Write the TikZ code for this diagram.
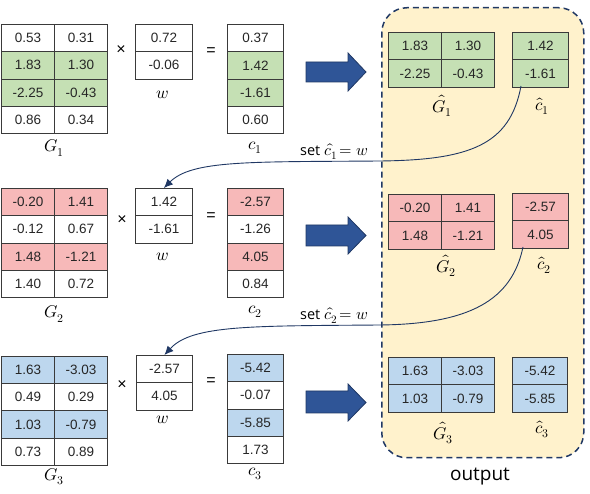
\documentclass[tikz,border=0pt]{standalone}
\usepackage{fontspec}
\usepackage{unicode-math}
\setmainfont{Liberation Sans}
\setmathfont{Latin Modern Math}
\newfontfamily\labfont{Open Sans}
\usetikzlibrary{arrows.meta}
\definecolor{gr}{HTML}{C5E0B4}
\definecolor{pk}{HTML}{F7B9B9}
\definecolor{bl}{HTML}{BDD7EE}
\definecolor{outbg}{HTML}{FFF2CC}
\definecolor{navy}{HTML}{203864}
\definecolor{arrfill}{HTML}{2F5597}
\definecolor{cellline}{HTML}{3A3A3A}
\tikzset{
  cellbox/.style={draw=cellline, line width=0.8pt, minimum height=27.3pt, inner sep=0pt,
    anchor=north west, text=black!85, font=\fontsize{13.5}{15}\selectfont},
  mlabel/.style={inner sep=0pt, font=\fontsize{17}{20}\selectfont},
  opsym/.style={inner sep=0pt, font=\fontsize{16}{18}\selectfont},
  setlab/.style={inner sep=0pt, font=\fontsize{16}{18}\selectfont},
  bigarr/.style={fill=arrfill, draw=navy, line width=0.8pt},
  link/.style={draw=navy, line width=0.9pt, -{Latex[length=9pt,width=8pt]}},
  outframe/.style={draw=navy, fill=outbg, dashed, dash pattern=on 6pt off 4pt, line width=1.5pt,
    rounded corners=25pt, inner sep=0pt},
}
\begin{document}
\begin{tikzpicture}[x=1pt,y=-1pt]
\useasboundingbox (0,0) rectangle (590,494);
% output frame
\node[outframe, minimum width=202pt, minimum height=450pt, anchor=north west] (out) at (381,7) {};
\node[inner sep=0pt, font=\labfont\fontsize{19}{22}\selectfont] (outlab) at (480,477) {output};

% ---------- row 1 ----------
\foreach \a/\b/\f [count=\i from 0] in {0.53/0.31/white, 1.83/1.30/gr, -2.25/-0.43/gr, 0.86/0.34/white} {
  \node[cellbox, fill=\f, minimum width=53pt] (G1-\i-a) at (1, 24+27.3*\i) {\a};
  \node[cellbox, fill=\f, minimum width=53pt] (G1-\i-b) at (54, 24+27.3*\i) {\b};
}
\foreach \a [count=\i from 0] in {0.72, -0.06} {
  \node[cellbox, fill=white, minimum width=57pt] (w1-\i) at (135, 24+27.3*\i) {\a};
}
\foreach \a/\f [count=\i from 0] in {0.37/white, 1.42/gr, -1.61/gr, 0.60/white} {
  \node[cellbox, fill=\f, minimum width=56pt] (c1-\i) at (227, 24+27.3*\i) {\a};
}
\node[opsym] (x1) at (121,50) {×};
\node[opsym] (e1) at (211,52) {=};
\node[mlabel] (G1l) at (54,148) {$G_1$};
\node[mlabel] (w1l) at (163,95) {$w$};
\node[mlabel] (c1l) at (255,148) {$c_1$};
\draw[bigarr] (306,62) -- (348,62) -- (348,53) -- (366,72) -- (348,91) -- (348,82) -- (306,82) -- cycle;
\foreach \a/\b [count=\i from 0] in {1.83/1.30, -2.25/-0.43} {
  \node[cellbox, fill=gr, minimum width=53pt] (H1-\i-a) at (388, 32+27.5*\i) {\a};
  \node[cellbox, fill=gr, minimum width=53pt] (H1-\i-b) at (441, 32+27.5*\i) {\b};
}
\foreach \a [count=\i from 0] in {1.42, -1.61} {
  \node[cellbox, fill=gr, minimum width=56pt] (h1-\i) at (512, 32+27.5*\i) {\a};
}
\node[mlabel] (H1l) at (442,106) {$\hat{G}_1$};
\node[mlabel] (h1l) at (542,106) {$\hat{c}_1$};

% ---------- row 2 ----------
\foreach \a/\b/\f [count=\i from 0] in {-0.20/1.41/pk, -0.12/0.67/white, 1.48/-1.21/pk, 1.40/0.72/white} {
  \node[cellbox, fill=\f, minimum width=53pt] (G2-\i-a) at (1, 188+27.3*\i) {\a};
  \node[cellbox, fill=\f, minimum width=53pt] (G2-\i-b) at (54, 188+27.3*\i) {\b};
}
\foreach \a [count=\i from 0] in {1.42, -1.61} {
  \node[cellbox, fill=white, minimum width=57pt] (w2-\i) at (135, 188+27.3*\i) {\a};
}
\foreach \a/\f [count=\i from 0] in {-2.57/pk, -1.26/white, 4.05/pk, 0.84/white} {
  \node[cellbox, fill=\f, minimum width=56pt] (c2-\i) at (227, 188+27.3*\i) {\a};
}
\node[opsym] (x2) at (122,220) {×};
\node[opsym] (e2) at (211,217) {=};
\node[mlabel] (G2l) at (54,314) {$G_2$};
\node[mlabel] (w2l) at (163,257) {$w$};
\node[mlabel] (c2l) at (255,312) {$c_2$};
\draw[bigarr] (306,225) -- (348,225) -- (348,217) -- (366,235.5) -- (348,254) -- (348,246) -- (306,246) -- cycle;
\foreach \a/\b [count=\i from 0] in {-0.20/1.41, 1.48/-1.21} {
  \node[cellbox, fill=pk, minimum width=53pt] (H2-\i-a) at (388, 194+27.5*\i) {\a};
  \node[cellbox, fill=pk, minimum width=53pt] (H2-\i-b) at (441, 194+27.5*\i) {\b};
}
\foreach \a [count=\i from 0] in {-2.57, 4.05} {
  \node[cellbox, fill=pk, minimum width=56pt] (h2-\i) at (512, 193+27.5*\i) {\a};
}
\node[mlabel] (H2l) at (446,266) {$\hat{G}_2$};
\node[mlabel] (h2l) at (544,265) {$\hat{c}_2$};

% ---------- row 3 ----------
\foreach \a/\b/\f [count=\i from 0] in {1.63/-3.03/bl, 0.49/0.29/white, 1.03/-0.79/bl, 0.73/0.89/white} {
  \node[cellbox, fill=\f, minimum width=53pt] (G3-\i-a) at (1, 356+27.2*\i) {\a};
  \node[cellbox, fill=\f, minimum width=53pt] (G3-\i-b) at (54, 356+27.2*\i) {\b};
}
\foreach \a [count=\i from 0] in {-2.57, 4.05} {
  \node[cellbox, fill=white, minimum width=56pt] (w3-\i) at (136, 355+27.3*\i) {\a};
}
\foreach \a/\f [count=\i from 0] in {-5.42/bl, -0.07/white, -5.85/bl, 1.73/white} {
  \node[cellbox, fill=\f, minimum width=56pt] (c3-\i) at (227, 354+27.3*\i) {\a};
}
\node[opsym] (x3) at (122,385) {×};
\node[opsym] (e3) at (211,382) {=};
\node[mlabel] (G3l) at (54,477) {$G_3$};
\node[mlabel] (w3l) at (163,420) {$w$};
\node[mlabel] (c3l) at (255,474) {$c_3$};
\draw[bigarr] (306,391) -- (348,391) -- (348,384) -- (366,402.5) -- (348,421) -- (348,413) -- (306,413) -- cycle;
\foreach \a/\b [count=\i from 0] in {1.63/-3.03, 1.03/-0.79} {
  \node[cellbox, fill=bl, minimum width=53pt] (H3-\i-a) at (388, 357+27.5*\i) {\a};
  \node[cellbox, fill=bl, minimum width=53pt] (H3-\i-b) at (441, 357+27.5*\i) {\b};
}
\foreach \a [count=\i from 0] in {-5.42, -5.85} {
  \node[cellbox, fill=bl, minimum width=55pt] (h3-\i) at (512, 357+27.5*\i) {\a};
}
\node[mlabel] (H3l) at (443,433) {$\hat{G}_3$};
\node[mlabel] (h3l) at (542,429) {$\hat{c}_3$};

% ---------- feedback links ----------
\coordinate (s1) at (521,86);
\coordinate (s2) at (523,247);
\draw[link] (s1) .. controls (510,145) and (470,160) .. (380,161)
  .. controls (250,162) and (192,160) .. (w2-0.north);
\draw[link] (s2) .. controls (512,300) and (470,324) .. (380,325)
  .. controls (250,326) and (192,325) .. (w3-0.north);
\node[setlab, anchor=base] (set1) at (334,156) {{\labfont\fontsize{14.5}{17}\selectfont set} $\hat{c}_1\!= w$};
\node[setlab, anchor=base] (set2) at (334,320) {{\labfont\fontsize{14.5}{17}\selectfont set} $\hat{c}_2\!= w$};
\end{tikzpicture}
\end{document}
